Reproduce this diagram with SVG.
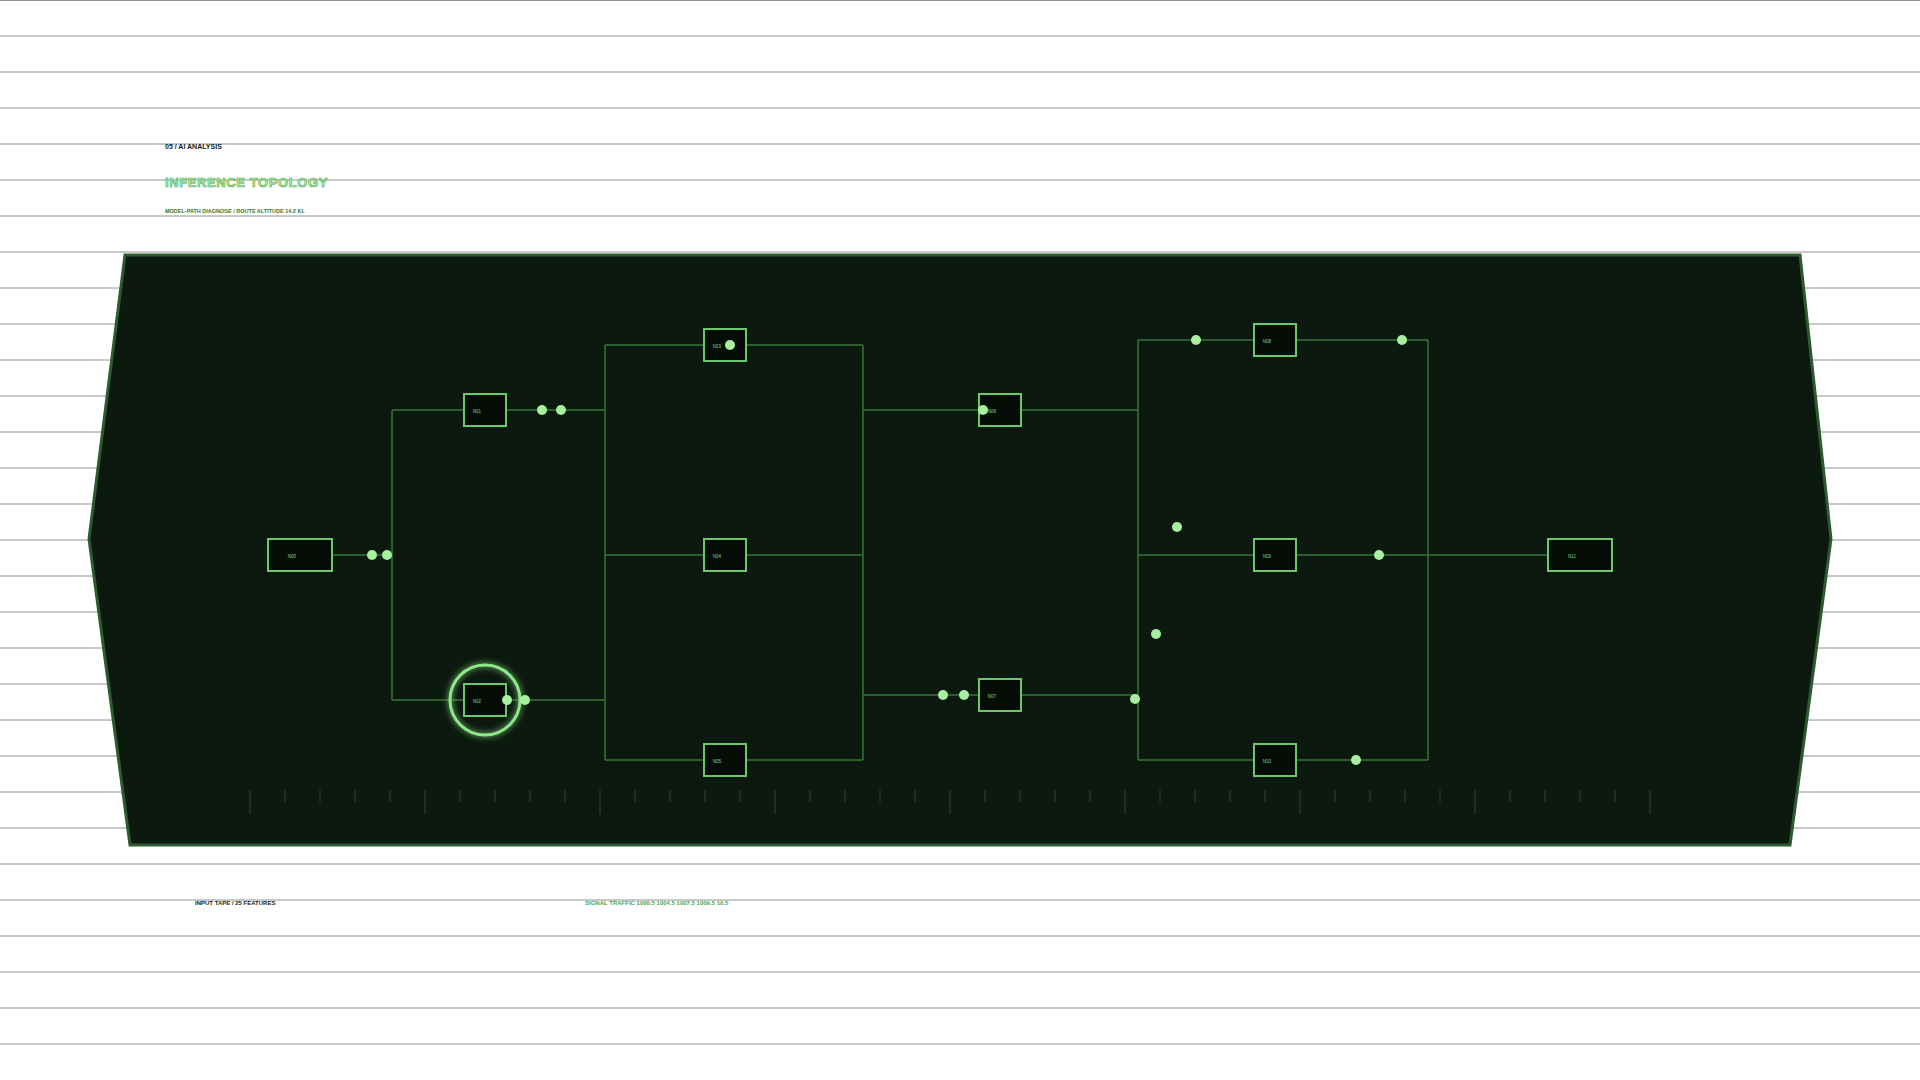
<svg xmlns="http://www.w3.org/2000/svg" width="1920" height="1080" viewBox="0 0 1920 1080">
<defs>
<style>
.bg{stroke:#929292;stroke-width:1.2}
.panel{fill:#0c190e;stroke:#2e5a30;stroke-width:3}
.edge{fill:none;stroke:#37723a;stroke-width:1.5}
.box{fill:#050d06;stroke:#6cc86a;stroke-width:2}
.lbl{font-family:"Liberation Sans",Arial,sans-serif;font-size:4.5px;fill:#8fd08c;text-anchor:middle}
.dot{fill:#a6f0a0}
.tick{stroke:#2a4a2c;stroke-width:1}
.hdr{font-family:"Liberation Sans",Arial,sans-serif;font-weight:bold}
</style>
<filter id="glow" x="-50%" y="-50%" width="200%" height="200%">
<feGaussianBlur stdDeviation="3" result="b"/>
<feMerge><feMergeNode in="b"/><feMergeNode in="SourceGraphic"/></feMerge>
</filter>
</defs>
<rect width="1920" height="1080" fill="#ffffff"/>
<g id="background-lines">
<line class="bg" x1="0" y1="0.5" x2="1920" y2="0.5"/>
<line class="bg" x1="0" y1="36" x2="1920" y2="36"/>
<line class="bg" x1="0" y1="72" x2="1920" y2="72"/>
<line class="bg" x1="0" y1="108" x2="1920" y2="108"/>
<line class="bg" x1="0" y1="144" x2="1920" y2="144"/>
<line class="bg" x1="0" y1="180" x2="1920" y2="180"/>
<line class="bg" x1="0" y1="216" x2="1920" y2="216"/>
<line class="bg" x1="0" y1="252" x2="1920" y2="252"/>
<line class="bg" x1="0" y1="288" x2="1920" y2="288"/>
<line class="bg" x1="0" y1="324" x2="1920" y2="324"/>
<line class="bg" x1="0" y1="360" x2="1920" y2="360"/>
<line class="bg" x1="0" y1="396" x2="1920" y2="396"/>
<line class="bg" x1="0" y1="432" x2="1920" y2="432"/>
<line class="bg" x1="0" y1="468" x2="1920" y2="468"/>
<line class="bg" x1="0" y1="504" x2="1920" y2="504"/>
<line class="bg" x1="0" y1="540" x2="1920" y2="540"/>
<line class="bg" x1="0" y1="576" x2="1920" y2="576"/>
<line class="bg" x1="0" y1="612" x2="1920" y2="612"/>
<line class="bg" x1="0" y1="648" x2="1920" y2="648"/>
<line class="bg" x1="0" y1="684" x2="1920" y2="684"/>
<line class="bg" x1="0" y1="720" x2="1920" y2="720"/>
<line class="bg" x1="0" y1="756" x2="1920" y2="756"/>
<line class="bg" x1="0" y1="792" x2="1920" y2="792"/>
<line class="bg" x1="0" y1="828" x2="1920" y2="828"/>
<line class="bg" x1="0" y1="864" x2="1920" y2="864"/>
<line class="bg" x1="0" y1="900" x2="1920" y2="900"/>
<line class="bg" x1="0" y1="936" x2="1920" y2="936"/>
<line class="bg" x1="0" y1="972" x2="1920" y2="972"/>
<line class="bg" x1="0" y1="1008" x2="1920" y2="1008"/>
<line class="bg" x1="0" y1="1044" x2="1920" y2="1044"/>
</g>
<g id="header">
<text class="hdr" x="165" y="149" font-size="7" fill="#142414">05 / AI ANALYSIS</text>
<text class="hdr" x="165" y="187" font-size="13" letter-spacing="0.6" fill="#b2f2aa" stroke="#4ea84c" stroke-width="0.6">INFERENCE TOPOLOGY</text>
<text class="hdr" x="165" y="213" font-size="5.5" fill="#2f7a30">MODEL-PATH DIAGNOSE / ROUTE ALTITUDE 14.2 KL</text>
</g>
<polygon class="panel" points="125,255 1800,255 1831,539 1790,845 130,845 89,539"/>
<g id="ticks">
<line class="tick" x1="250" y1="790" x2="250" y2="814"/><line class="tick" x1="285" y1="790" x2="285" y2="802"/><line class="tick" x1="320" y1="790" x2="320" y2="802"/><line class="tick" x1="355" y1="790" x2="355" y2="802"/><line class="tick" x1="390" y1="790" x2="390" y2="802"/>
<line class="tick" x1="425" y1="790" x2="425" y2="814"/><line class="tick" x1="460" y1="790" x2="460" y2="802"/><line class="tick" x1="495" y1="790" x2="495" y2="802"/><line class="tick" x1="530" y1="790" x2="530" y2="802"/><line class="tick" x1="565" y1="790" x2="565" y2="802"/>
<line class="tick" x1="600" y1="790" x2="600" y2="814"/><line class="tick" x1="635" y1="790" x2="635" y2="802"/><line class="tick" x1="670" y1="790" x2="670" y2="802"/><line class="tick" x1="705" y1="790" x2="705" y2="802"/><line class="tick" x1="740" y1="790" x2="740" y2="802"/>
<line class="tick" x1="775" y1="790" x2="775" y2="814"/><line class="tick" x1="810" y1="790" x2="810" y2="802"/><line class="tick" x1="845" y1="790" x2="845" y2="802"/><line class="tick" x1="880" y1="790" x2="880" y2="802"/><line class="tick" x1="915" y1="790" x2="915" y2="802"/>
<line class="tick" x1="950" y1="790" x2="950" y2="814"/><line class="tick" x1="985" y1="790" x2="985" y2="802"/><line class="tick" x1="1020" y1="790" x2="1020" y2="802"/><line class="tick" x1="1055" y1="790" x2="1055" y2="802"/><line class="tick" x1="1090" y1="790" x2="1090" y2="802"/>
<line class="tick" x1="1125" y1="790" x2="1125" y2="814"/><line class="tick" x1="1160" y1="790" x2="1160" y2="802"/><line class="tick" x1="1195" y1="790" x2="1195" y2="802"/><line class="tick" x1="1230" y1="790" x2="1230" y2="802"/><line class="tick" x1="1265" y1="790" x2="1265" y2="802"/>
<line class="tick" x1="1300" y1="790" x2="1300" y2="814"/><line class="tick" x1="1335" y1="790" x2="1335" y2="802"/><line class="tick" x1="1370" y1="790" x2="1370" y2="802"/><line class="tick" x1="1405" y1="790" x2="1405" y2="802"/><line class="tick" x1="1440" y1="790" x2="1440" y2="802"/>
<line class="tick" x1="1475" y1="790" x2="1475" y2="814"/><line class="tick" x1="1510" y1="790" x2="1510" y2="802"/><line class="tick" x1="1545" y1="790" x2="1545" y2="802"/><line class="tick" x1="1580" y1="790" x2="1580" y2="802"/><line class="tick" x1="1615" y1="790" x2="1615" y2="802"/>
<line class="tick" x1="1650" y1="790" x2="1650" y2="814"/>
</g>
<g id="connectors">
<path class="edge" d="M333,555 H392 M392,410 V700 M392,410 H463 M392,700 H463"/>
<path class="edge" d="M507,410 H605 M507,700 H605 M605,345 V760 M605,345 H703 M605,555 H703 M605,760 H703"/>
<path class="edge" d="M747,345 H863 M747,555 H863 M747,760 H863 M863,345 V760 M863,410 H978 M863,695 H978"/>
<path class="edge" d="M1022,410 H1138 M1022,695 H1138 M1138,340 V760 M1138,340 H1253 M1138,555 H1253 M1138,760 H1253"/>
<path class="edge" d="M1297,340 H1428 M1297,555 H1428 M1297,760 H1428 M1428,340 V760 M1428,555 H1548"/>
</g>
<g id="N00"><rect class="box" x="268" y="539" width="64" height="32"/><text class="lbl" x="292" y="558">N00</text></g>
<g id="N01"><rect class="box" x="464" y="394" width="42" height="32"/><text class="lbl" x="477" y="413">N01</text></g>
<g id="N02"><circle cx="485" cy="700" r="35" fill="none" stroke="#8ee88a" stroke-width="3" filter="url(#glow)"/><rect class="box" x="464" y="684" width="42" height="32"/><text class="lbl" x="477" y="703">N02</text></g>
<g id="N03"><rect class="box" x="704" y="329" width="42" height="32"/><text class="lbl" x="717" y="348">N03</text></g>
<g id="N04"><rect class="box" x="704" y="539" width="42" height="32"/><text class="lbl" x="717" y="558">N04</text></g>
<g id="N05"><rect class="box" x="704" y="744" width="42" height="32"/><text class="lbl" x="717" y="763">N05</text></g>
<g id="N06"><rect class="box" x="979" y="394" width="42" height="32"/><text class="lbl" x="992" y="413">N06</text></g>
<g id="N07"><rect class="box" x="979" y="679" width="42" height="32"/><text class="lbl" x="992" y="698">N07</text></g>
<g id="N08"><rect class="box" x="1254" y="324" width="42" height="32"/><text class="lbl" x="1267" y="343">N08</text></g>
<g id="N09"><rect class="box" x="1254" y="539" width="42" height="32"/><text class="lbl" x="1267" y="558">N09</text></g>
<g id="N10"><rect class="box" x="1254" y="744" width="42" height="32"/><text class="lbl" x="1267" y="763">N10</text></g>
<g id="N11"><rect class="box" x="1548" y="539" width="64" height="32"/><text class="lbl" x="1572" y="558">N11</text></g>
<g id="pulses">
<circle class="dot" cx="372" cy="555" r="5"/><circle class="dot" cx="387" cy="555" r="5"/>
<circle class="dot" cx="542" cy="410" r="5"/><circle class="dot" cx="561" cy="410" r="5"/>
<circle class="dot" cx="507" cy="700" r="5"/><circle class="dot" cx="525" cy="700" r="5"/>
<circle class="dot" cx="730" cy="345" r="5"/>
<circle class="dot" cx="983" cy="410" r="5"/>
<circle class="dot" cx="943" cy="695" r="5"/><circle class="dot" cx="964" cy="695" r="5"/>
<circle class="dot" cx="1135" cy="699" r="5"/>
<circle class="dot" cx="1196" cy="340" r="5"/><circle class="dot" cx="1402" cy="340" r="5"/>
<circle class="dot" cx="1177" cy="527" r="5"/><circle class="dot" cx="1156" cy="634" r="5"/>
<circle class="dot" cx="1379" cy="555" r="5"/><circle class="dot" cx="1356" cy="760" r="5"/>
</g>
<g id="footer">
<text class="hdr" x="195" y="905" font-size="6" fill="#142414">INPUT TAPE / 25 FEATURES</text>
<text class="hdr" x="585" y="905" font-size="6" fill="#4ea84c" font-weight="normal">SIGNAL TRAFFIC 1000.5 1004.5 1007.5 1009.5 10.5</text>
</g>
</svg>
